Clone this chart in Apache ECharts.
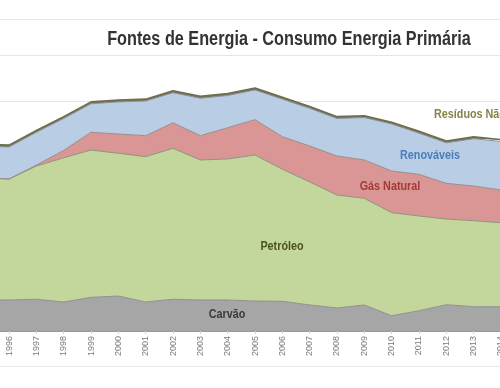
<!DOCTYPE html>
<html><head><meta charset="utf-8">
<script src="https://cdn.jsdelivr.net/npm/echarts@6/dist/echarts.min.js"></script>
<style>html,body{margin:0;padding:0;background:#fff}#c{width:500px;height:388px}</style>
</head><body><div id="c"></div>
<script>
const years = ['1995','1996','1997','1998','1999','2000','2001','2002','2003','2004','2005','2006','2007','2008','2009','2010','2011','2012','2013','2014'];
const carvao     = [3.37,3.37,3.45,3.15,3.66,3.80,3.15,3.45,3.37,3.37,3.26,3.23,2.83,2.50,2.83,1.66,2.21,2.86,2.64,2.64];
const petroleo   = [13.29,13.15,14.48,15.68,16.01,15.52,15.80,16.41,15.22,15.33,15.87,14.35,13.37,12.28,11.59,11.20,10.29,9.31,9.35,9.13];
const gasNatural = [0,0,0.10,0.80,1.93,2.09,2.28,2.78,2.64,3.40,3.84,3.54,3.91,4.24,4.17,4.53,4.53,3.88,3.77,3.56];
const renovaveis = [3.44,3.48,3.57,3.47,3.10,3.49,3.77,3.26,4.07,3.50,3.23,4.08,4.09,4.08,4.61,5.11,4.47,4.40,5.14,5.27];
const residuos   = [0.2,0.2,0.2,0.2,0.2,0.2,0.2,0.2,0.2,0.2,0.2,0.2,0.2,0.2,0.2,0.2,0.2,0.2,0.2,0.2];
const yTicks = {min: 0, max: 30, interval: 5};

const FF = "'Liberation Sans',Arial,sans-serif";
const chart = echarts.init(document.getElementById('c'), null, {renderer: 'canvas'});

function areaSeries(name, data, fill, lineColor, lineWidth) {
  return {
    name, type: 'line', stack: 'total', data,
    showSymbol: false, symbol: 'none', smooth: false,
    lineStyle: {color: lineColor, width: lineWidth},
    areaStyle: {color: fill, opacity: 1},
    emphasis: {disabled: true},
    animation: false
  };
}
function label(text, x, y, align, size, color, sx) {
  return {
    type: 'text', x: x, y: y, scaleX: sx, originX: 0, originY: 0, z: 10, silent: true,
    style: {text: text, x: 0, y: 0, textAlign: align, textVerticalAlign: 'middle', font: 'bold ' + size + 'px ' + FF, fill: color}
  };
}

chart.setOption({
  animation: false,
  backgroundColor: '#fff',
  grid: {left: -18.3, right: -1, top: 55, bottom: 57, containLabel: false, outerBoundsMode: 'none'},
  xAxis: {
    type: 'category', data: years, boundaryGap: false,
    axisLine: {show: true, lineStyle: {color: '#9a9a9a', width: 1}},
    axisTick: {show: true, length: 3, lineStyle: {color: '#d0d0d0'}},
    axisLabel: {rotate: 90, interval: 0, fontSize: 9, color: '#7a7a7a', margin: 5, fontFamily: 'Liberation Sans, Arial, sans-serif', hideOverlap: false},
    splitLine: {show: false}
  },
  yAxis: {
    type: 'value', min: yTicks.min, max: yTicks.max, interval: yTicks.interval,
    axisLabel: {show: false}, axisLine: {show: false}, axisTick: {show: false},
    splitLine: {show: true, lineStyle: {color: '#e6e6e6', width: 1}}
  },
  series: [
    areaSeries('Carvão', carvao, '#a6a6a6', '#8f8f8f', 1),
    areaSeries('Petróleo', petroleo, '#c3d69b', '#8c9480', 1),
    areaSeries('Gás Natural', gasNatural, '#d99694', '#9a8c8c', 1),
    areaSeries('Renováveis', renovaveis, '#b9cde5', '#8a93a0', 1),
    areaSeries('Resíduos Não Renováveis', residuos, '#777755', '#6e6e4c', 1.6)
  ],
  graphic: [
    {type: 'line', shape: {x1: 0, y1: 19.5, x2: 500, y2: 19.5}, style: {stroke: '#e8e8e8', lineWidth: 1}, silent: true},
    {type: 'line', shape: {x1: 0, y1: 366.5, x2: 500, y2: 366.5}, style: {stroke: '#e8e8e8', lineWidth: 1}, silent: true},
    label('Fontes de Energia - Consumo Energia Primária', 289, 39, 'center', 20, '#333333', 0.812),
    label('Carvão', 227, 314, 'center', 13, '#3a3a3a', 0.83),
    label('Petróleo', 282, 246, 'center', 13, '#4b5320', 0.83),
    label('Gás Natural', 390, 186, 'center', 13, '#a23b38', 0.83),
    label('Renováveis', 430, 155, 'center', 13, '#4a7ebb', 0.83),
    label('Resíduos Não Renováveis', 434, 114, 'left', 13, '#848448', 0.83)
  ]
});
</script>
</body></html>
